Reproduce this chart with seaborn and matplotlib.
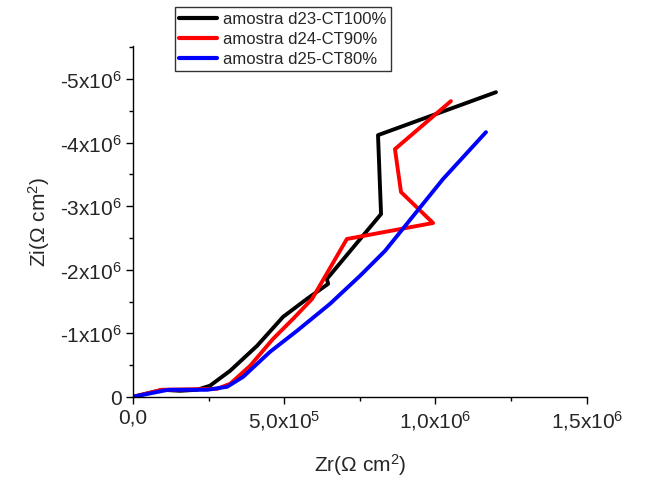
import pandas as pd
import matplotlib
matplotlib.use("Agg")
import matplotlib.pyplot as plt
import seaborn as sns
from matplotlib.ticker import FixedLocator, MultipleLocator

sns.set_style("ticks")
plt.rcParams['font.family'] = ['Liberation Sans', 'DejaVu Sans']
plt.rcParams['mathtext.fontset'] = 'custom'
plt.rcParams['mathtext.rm'] = 'Liberation Sans'
plt.rcParams['mathtext.it'] = 'Liberation Sans:italic'

labels = ["amostra d23-CT100%", "amostra d24-CT90%", "amostra d25-CT80%"]
colors = ["black", "red", "blue"]

zr_d23 = [0, 56200, 95900, 155000, 211000, 254000, 321000, 410000, 496000,
          575000, 645000, 641000, 820000, 810000, 1200000]
zi_d23 = [0, -62900, -110000, -94300, -110000, -173000, -409000, -802000, -1258000,
          -1541000, -1777000, -1855000, -2877000, -4119000, -4795000]

zr_d24 = [0, 95900, 278000, 321000, 387000, 463000, 529000, 592000, 707000,
          992000, 886000, 866000, 1051000]
zi_d24 = [0, -110000, -126000, -204000, -487000, -912000, -1226000, -1541000, -2484000,
          -2736000, -3223000, -3899000, -4654000]

zr_d25 = [0, 116000, 245000, 311000, 364000, 453000, 542000, 651000, 750000,
          833000, 1025000, 1167000]
zi_d25 = [0, -110000, -110000, -157000, -314000, -708000, -1038000, -1462000, -1902000,
          -2296000, -3428000, -4166000]

xticks = [0, 5e5, 1e6, 1.5e6]
xticklabels = ["0,0", r"5,0x10$^5$", r"1,0x10$^6$", r"1,5x10$^6$"]
yticks = [0, -1e6, -2e6, -3e6, -4e6, -5e6]
yticklabels = ["0", r"-1x10$^6$", r"-2x10$^6$", r"-3x10$^6$", r"-4x10$^6$", r"-5x10$^6$"]

frames = []
for lab, zr, zi in zip(labels, [zr_d23, zr_d24, zr_d25], [zi_d23, zi_d24, zi_d25]):
    frames.append(pd.DataFrame({"Zr": zr, "Zi": zi, "amostra": lab}))
df = pd.concat(frames, ignore_index=True)

fig = plt.figure(figsize=(6.49, 4.81), dpi=100)
ax = fig.add_axes([0.205, 0.173, 0.699, 0.729])

sns.lineplot(data=df, x="Zr", y="Zi", hue="amostra", palette=colors,
             sort=False, estimator=None, units="amostra", linewidth=2.8, ax=ax)

ax.set_xlim(0, 1.5e6)
ax.set_ylim(0, -5.52e6)

ax.xaxis.set_major_locator(FixedLocator(xticks))
ax.set_xticklabels(xticklabels, fontsize=15)
ax.xaxis.set_minor_locator(MultipleLocator(2.5e5))
ax.yaxis.set_major_locator(FixedLocator(yticks))
ax.set_yticklabels(yticklabels, fontsize=15)
ax.yaxis.set_minor_locator(MultipleLocator(5e5))
ax.tick_params(which="major", direction="out", length=5, width=1, color="black", pad=3)
ax.tick_params(which="minor", direction="out", length=3, width=1, color="black")

for s in ["top", "right"]:
    ax.spines[s].set_visible(False)
for s in ["left", "bottom"]:
    ax.spines[s].set_color("black")
    ax.spines[s].set_linewidth(1)

ax.set_xlabel(r"Zr(Ω cm$^2$)", fontsize=15, labelpad=14)
ax.set_ylabel(r"Zi(Ω cm$^2$)", fontsize=15, labelpad=6)

leg = ax.legend(loc="upper left", bbox_to_anchor=(0.2696, 0.983),
                bbox_transform=fig.transFigure, fontsize=12, frameon=True,
                fancybox=False, handlelength=2.3, labelspacing=0.3,
                borderpad=0.25, handletextpad=0.35, borderaxespad=0)
leg.get_frame().set_edgecolor("black")
leg.get_frame().set_linewidth(1)
for line in leg.get_lines():
    line.set_linewidth(3)

fig.savefig("out.png", dpi=100)
